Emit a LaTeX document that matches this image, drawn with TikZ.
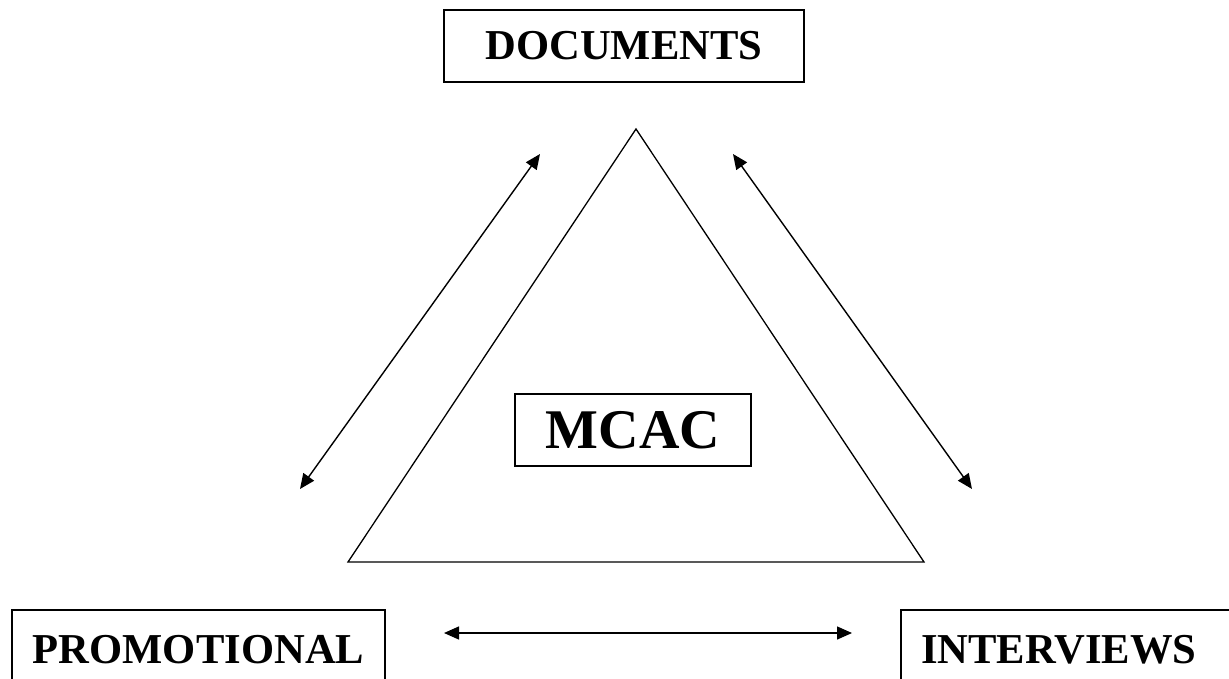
\documentclass[tikz,border=0pt]{standalone}
\usepackage{fontspec}
\setmainfont{Liberation Serif}
\usetikzlibrary{arrows.meta}
\begin{document}
\begin{tikzpicture}[x=1pt,y=-1pt,
  lbl/.style={draw,line width=1.8pt,inner sep=0pt,font=\bfseries\fontsize{42.6}{48}\selectfont},
  link/.style={line width=1.4pt,{Triangle[length=15pt,width=13pt]}-{Triangle[length=15pt,width=13pt]}}]
\useasboundingbox (0,0) rectangle (1229,678);
\clip (0,0) rectangle (1229,678);
\node[lbl,minimum width=360pt,minimum height=72pt] (doc) at (624,46) {DOCUMENTS};
\node[lbl,minimum width=236pt,minimum height=72pt,font=\bfseries\fontsize{56}{60}\selectfont] (mcac) at (633,430) {MCAC};
\node[lbl,minimum width=373pt,minimum height=80pt] (promo) at (198.5,650) {PROMOTIONAL};
\node[lbl,minimum width=340pt,minimum height=80pt,text width=300pt,align=left] (inter) at (1071,650) {INTERVIEWS};
\coordinate (ta) at (636,129);
\coordinate (tl) at (348,562);
\coordinate (tr) at (924,562);
\draw[line width=1.3pt,line join=miter] (ta) -- (tl) -- (tr) -- cycle;
\coordinate (a1) at (540,154);
\coordinate (a2) at (300,489);
\coordinate (b1) at (733,154);
\coordinate (b2) at (972,489);
\coordinate (c1) at (444,633);
\coordinate (c2) at (852,633);
\draw[link] (a1) -- (a2);
\draw[link] (b1) -- (b2);
\draw[link] (c1) -- (c2);
\end{tikzpicture}
\end{document}
